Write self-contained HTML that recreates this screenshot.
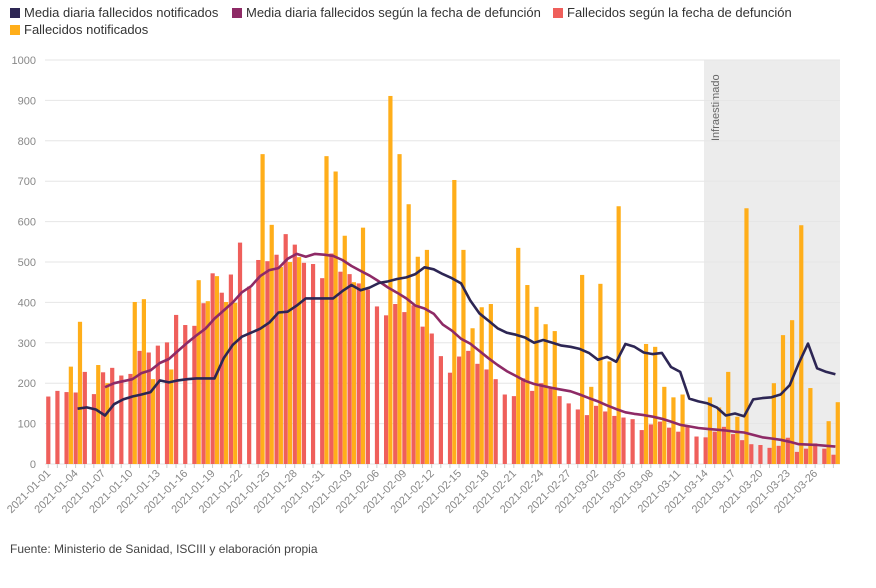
<!DOCTYPE html>
<html><head><meta charset="utf-8"><style>
body{margin:0;background:#fff;font-family:"Liberation Sans",sans-serif;}
svg text{font-family:"Liberation Sans",sans-serif;}
</style></head><body>
<svg id="c" width="876" height="583">
<g id="legend">
 <g><rect x="10" y="8" width="10" height="10" fill="#2d2654"/><text x="24" y="17" font-size="13" fill="#333">Media diaria fallecidos notificados</text></g>
 <g><rect x="232" y="8" width="10" height="10" fill="#8e2a66"/><text x="246" y="17" font-size="13" fill="#333">Media diaria fallecidos según la fecha de defunción</text></g>
 <g><rect x="553" y="8" width="10" height="10" fill="#ef5f5b"/><text x="567" y="17" font-size="13" fill="#333">Fallecidos según la fecha de defunción</text></g>
 <g><rect x="10" y="25" width="10" height="10" fill="#ffae1a"/><text x="24" y="34" font-size="13" fill="#333">Fallecidos notificados</text></g>
</g>
<g id="plot"></g>
<text x="10" y="553" font-size="12" fill="#444">Fuente: Ministerio de Sanidad, ISCIII y elaboración propia</text>
</svg>
<script>
const start = new Date(Date.UTC(2021,0,1));
const defuncion = [167,181,178,177,228,173,227,238,219,223,280,276,293,301,369,344,342,398,472,424,469,548,439,505,502,518,569,543,498,495,460,521,476,470,447,432,390,368,396,376,393,340,323,267,226,266,280,248,234,210,172,168,212,181,200,187,168,150,135,121,144,130,119,115,111,84,98,105,90,80,92,68,66,80,92,74,59,49,47,40,45,65,30,38,51,38,23];
const notificados = [0,0,241,352,0,245,200,0,0,401,408,210,0,234,0,0,455,403,465,401,399,0,0,767,592,488,500,512,0,0,762,724,565,450,585,0,0,911,767,643,513,530,0,0,703,530,336,388,396,0,0,535,443,389,346,329,0,0,468,191,446,254,638,0,0,297,290,191,165,172,0,0,165,140,228,117,633,0,0,200,319,356,591,188,0,106,153];
const mediaNotif = [null,null,null,137,140,135,120,148,160,167,172,178,207,202,207,210,212,212,212,262,295,315,325,335,350,375,377,392,410,410,410,410,428,443,430,437,448,452,458,462,470,487,482,470,460,447,405,373,355,336,325,320,313,300,307,300,293,290,285,275,258,265,253,297,290,276,272,275,240,228,162,155,150,140,120,125,118,160,163,165,172,195,250,298,237,228,222];
const mediaDef = [null,null,null,null,null,null,190,200,205,210,225,232,250,260,280,300,318,335,360,380,400,425,440,465,480,485,508,520,513,520,518,515,505,490,478,466,452,437,424,410,392,385,372,345,330,310,298,280,262,245,230,218,206,198,193,188,184,180,172,163,155,145,136,128,124,121,117,112,105,97,93,89,87,85,83,80,78,72,66,63,60,55,49,48,47,45,43];
const yTicks = [0,100,200,300,400,500,600,700,800,900,1000];

const NS="http://www.w3.org/2000/svg";
const g=document.getElementById('plot');
const X0=45,X1=840,Y0=464,Y1=60;
const xc=d=>48.2+9.13*d;
const y=v=>Y0-(v/1000)*(Y0-Y1);
function mk(t,a){const e=document.createElementNS(NS,t);for(const k in a)e.setAttribute(k,a[k]);g.appendChild(e);return e;}
// shaded region
const sh=mk('rect',{x:704,y:Y1,width:X1-704,height:Y0-Y1,fill:'#ececec'});


const st=mk('text',{x:0,y:0,'font-size':11,fill:'#666',transform:'translate(719,141) rotate(-90)'});
st.textContent='Infraestimado';


// grid
yTicks.forEach(v=>{
 const l=mk('line',{x1:X0,x2:X1,y1:y(v),y2:y(v),stroke:'#e6e6e6','stroke-width':1});
 
 
 const t=mk('text',{x:36,y:y(v)+4,'font-size':11,fill:'#888','text-anchor':'end'});
 t.textContent=v;
 
 
});
// bars
defuncion.forEach((v,d)=>{
 const r=mk('rect',{x:xc(d)-2,y:y(v),width:4.2,height:Y0-y(v),fill:'#ef5f5b'});
 
 
});
notificados.forEach((v,d)=>{
 if(!v)return;
 const r=mk('rect',{x:xc(d)+2.3,y:y(v),width:4.2,height:Y0-y(v),fill:'#ffae1a'});
 
 
});
// lines
function line(arr,col,name){
 let p='';arr.forEach((v,d)=>{if(v==null)return;p+=(p?'L':'M')+(xc(d)+2).toFixed(1)+','+y(v).toFixed(1);});
 const e=mk('path',{d:p,fill:'none',stroke:col,'stroke-width':2.6,'stroke-linejoin':'round'});
 
 
}
line(mediaDef,'#8e2a66','line-media-defuncion');
line(mediaNotif,'#2d2654','line-media-notificados');
// x axis ticks/labels
for(let d=0;d<defuncion.length;d++){
 const tk=mk('line',{x1:xc(d),x2:xc(d),y1:Y0,y2:Y0+4,stroke:'#ccc'});
 
 
 if(d%3===0){
  const dt=new Date(start.getTime()+d*864e5);
  const s=dt.toISOString().slice(0,10);
  const t=mk('text',{x:0,y:0,'font-size':11,fill:'#888','text-anchor':'end',transform:`translate(${xc(d)+3},${Y0+10}) rotate(-45)`});
  t.textContent=s;
  
  
 }
}
</script>
</body></html>
